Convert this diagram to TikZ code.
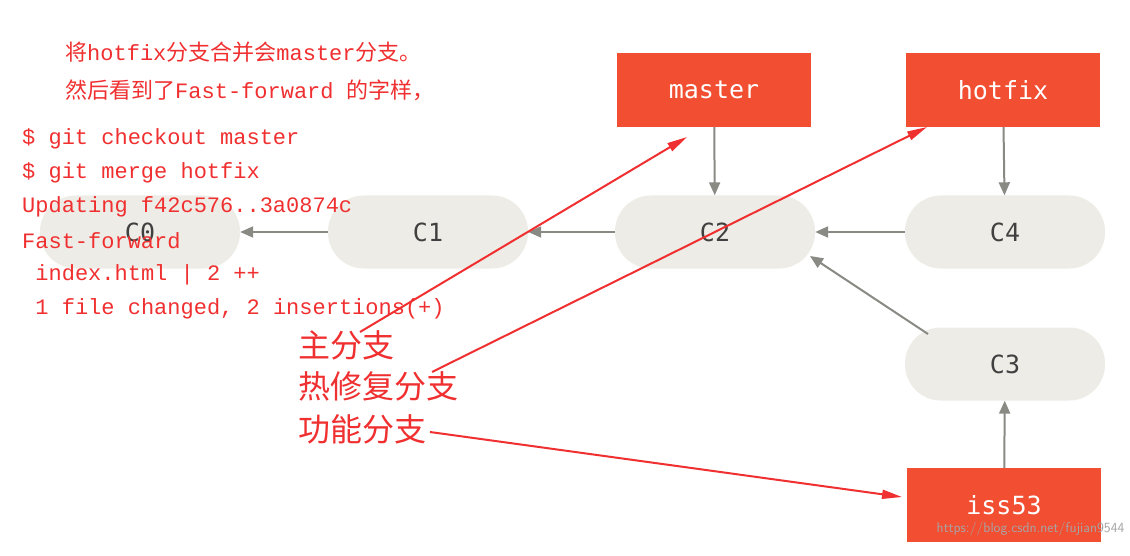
\documentclass[tikz,border=0pt]{standalone}
\usepackage{fontspec}
\setmonofont{Liberation Mono}
\newfontfamily\cjk{Noto Sans CJK SC}
\newfontfamily\gitfont{DejaVu Sans Mono}
\usetikzlibrary{arrows.meta}
\definecolor{gitred}{HTML}{F14E32}
\definecolor{pill}{HTML}{EDECE6}
\definecolor{garrow}{HTML}{8A8A85}
\definecolor{redtxt}{HTML}{F03030}
\tikzset{
 branch/.style={fill=gitred,minimum width=194pt,minimum height=74pt,text=white,font=\gitfont\fontsize{25}{25}\selectfont},
 commit/.style={fill=pill,rounded corners=36pt,minimum width=200pt,minimum height=73pt,text=black!75,font=\gitfont\fontsize{25}{25}\selectfont},
 garr/.style={draw=garrow,line width=2pt,-{Triangle[length=13pt,width=11pt]}},
 rarr/.style={draw=redtxt,line width=2pt,-{Triangle[length=20pt,width=9pt]}},
 code/.style={anchor=west,text=redtxt,font=\ttfamily\fontsize{22}{22}\selectfont,inner sep=0pt},
 big/.style={anchor=west,text=redtxt,font=\cjk\fontsize{32}{32}\selectfont,inner sep=0pt}
}
\begin{document}
\begin{tikzpicture}[x=1pt,y=-1pt]
\useasboundingbox[fill=white] (0,0) rectangle (1130,556);
\node[commit] (c0) at (140,232) {C0};
\node[commit] (c1) at (428,232) {C1};
\node[commit] (c2) at (715,232) {C2};
\node[commit] (c4) at (1005,232) {C4};
\node[commit] (c3) at (1005,364) {C3};
\node[branch] (master) at (714,90) {master};
\node[branch] (hotfix) at (1003,90) {hotfix};
\node[branch] (iss53) at (1004,505) {iss53};
\draw[garr] (master) -- (c2);
\draw[garr] (hotfix) -- (c4);
\draw[garr] (iss53) -- (c3);
\draw[garr] (c1) -- (c0);
\draw[garr] (c2) -- (c1);
\draw[garr] (c4) -- (c2);
\coordinate (c3a) at (928,334);
\coordinate (c2b) at (810,256);
\draw[garr] (c3a) -- (c2b);
\node[code] (t1) at (65,52) {{\cjk 将}hotfix{\cjk 分支合并会}master{\cjk 分支。}};
\node[code] (t2) at (65,90) {{\cjk 然后看到了}Fast-forward {\cjk 的字样，}};
\node[code] (l1) at (22,139) {\$ git checkout master};
\node[code] (l2) at (22,173) {\$ git merge hotfix};
\node[code] (l3) at (22,207) {Updating f42c576..3a0874c};
\node[code] (l4) at (22,241) {Fast-forward};
\node[code] (l5) at (22,275) {\ index.html | 2 ++};
\node[code] (l6) at (22,309) {\ 1 file changed, 2 insertions(+)};
\node[big] (m) at (298,345) {主分支};
\node[big] (h) at (298,386) {热修复分支};
\node[big] (f) at (298,429) {功能分支};
\coordinate (ms) at (360,332);
\coordinate (me) at (687,137);
\coordinate (hs) at (432,372);
\coordinate (he) at (927,127);
\coordinate (fs) at (430,432);
\coordinate (fe) at (902,497);
\draw[rarr] (ms) -- (me);
\draw[rarr] (hs) -- (he);
\draw[rarr] (fs) -- (fe);
\node[anchor=south east,text=black!35,font=\sffamily\fontsize{14}{14}\selectfont] (wm) at (1128,540) {https://blog.csdn.net/fujian9544};
\end{tikzpicture}
\end{document}
